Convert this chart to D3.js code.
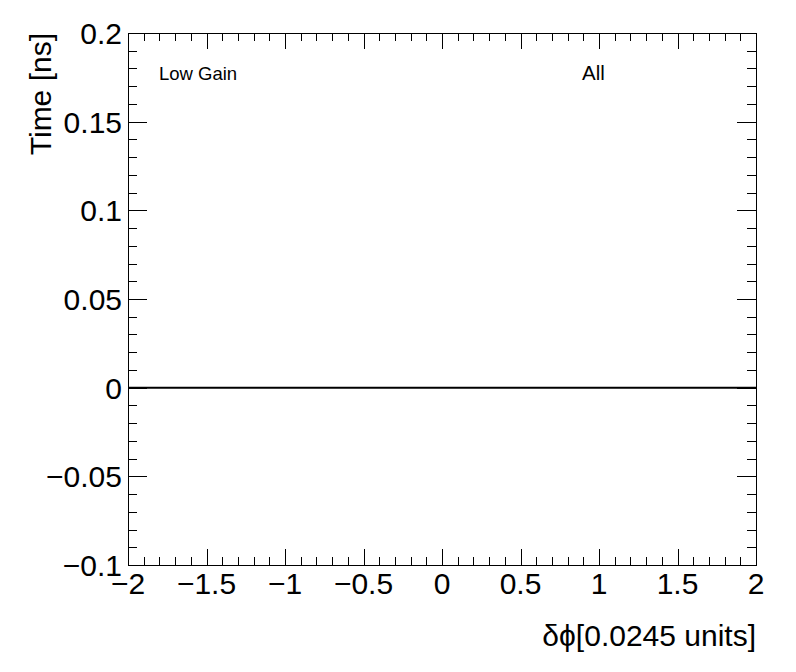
<!DOCTYPE html>
<html>
<head>
<meta charset="utf-8">
<script src="https://cdn.jsdelivr.net/npm/d3@7"></script>
<style>
  body { margin: 0; background: #fff; }
  text { font-family: "Liberation Sans", Arial, sans-serif; fill: #000; }
</style>
</head>
<body>
<div id="chart"></div>
<script>
// data
var xPoints = [-2, -1.5, -1, -0.5, 0, 0.5, 1, 1.5, 2];
var yPoints = [0, 0, 0, 0, 0, 0, 0, 0, 0];
var xTicks = [-2, -1.5, -1, -0.5, 0, 0.5, 1, 1.5, 2];
var yTicks = [-0.1, -0.05, 0, 0.05, 0.1, 0.15, 0.2];
var labels = ["Low Gain", "All"];

var width = 796, height = 672;
var padL = 128, padR = 756, padT = 33, padB = 565;

var svg = d3.select("#chart").append("svg")
    .attr("width", width)
    .attr("height", height);

var x = d3.scaleLinear().domain([-2, 2]).range([padL, padR]);
var y = d3.scaleLinear().domain([-0.1, 0.2]).range([padB, padT]);

var fmt = function (d) {
    var s = String(+d.toFixed(3));
    return s.replace("-", "\u2212");
};

// minor ticks
var xMinor = d3.range(-20, 21).map(d => d / 10);
var yMinor = d3.range(-10, 21).map(d => d / 100);

var g = svg.append("g").attr("stroke", "#000").attr("stroke-width", 1);

g.selectAll(".xb").data(xMinor).enter().append("line")
    .attr("x1", d => Math.round(x(d)) + 0.5).attr("x2", d => Math.round(x(d)) + 0.5)
    .attr("y1", padB)
    .attr("y2", (d, i) => padB - (i % 5 === 0 ? 16 : 8));
g.selectAll(".xt").data(xMinor).enter().append("line")
    .attr("x1", d => Math.round(x(d)) + 0.5).attr("x2", d => Math.round(x(d)) + 0.5)
    .attr("y1", padT)
    .attr("y2", (d, i) => padT + (i % 5 === 0 ? 16 : 8));
g.selectAll(".yl").data(yMinor).enter().append("line")
    .attr("y1", d => Math.round(y(d)) + 0.5).attr("y2", d => Math.round(y(d)) + 0.5)
    .attr("x1", padL)
    .attr("x2", (d, i) => padL + (i % 5 === 0 ? 19 : 9));
g.selectAll(".yr").data(yMinor).enter().append("line")
    .attr("y1", d => Math.round(y(d)) + 0.5).attr("y2", d => Math.round(y(d)) + 0.5)
    .attr("x1", padR)
    .attr("x2", (d, i) => padR - (i % 5 === 0 ? 19 : 9));

// frame
svg.append("rect")
    .attr("x", padL + 0.5).attr("y", padT + 0.5)
    .attr("width", padR - padL).attr("height", padB - padT)
    .attr("fill", "none").attr("stroke", "#000").attr("stroke-width", 1);

// series
var line = d3.line().x(d => x(d[0])).y(d => y(d[1]));
svg.append("path")
    .datum(xPoints.map((d, i) => [d, yPoints[i]]))
    .attr("d", line)
    .attr("fill", "none")
    .attr("stroke", "#000")
    .attr("stroke-width", 2);

// tick labels
svg.selectAll(".xl").data(xTicks).enter().append("text")
    .attr("x", d => x(d))
    .attr("y", 594)
    .attr("text-anchor", "middle")
    .attr("font-size", 30)
    .text(fmt);

svg.selectAll(".ylab").data(yTicks).enter().append("text")
    .attr("x", 122)
    .attr("y", d => y(d) + 11)
    .attr("text-anchor", "end")
    .attr("font-size", 30)
    .text(fmt);

// axis titles
svg.append("text")
    .attr("x", 756).attr("y", 646)
    .attr("text-anchor", "end")
    .attr("font-size", 30)
    .text("\u03b4\u03d5[0.0245 units]");

svg.append("text")
    .attr("transform", "translate(51,33) rotate(-90)")
    .attr("text-anchor", "end")
    .attr("font-size", 30)
    .text("Time [ns]");

// labels
svg.append("text").attr("x", 159).attr("y", 80).attr("font-size", 18.5).text(labels[0]);
svg.append("text").attr("x", 582).attr("y", 80).attr("font-size", 20.5).text(labels[1]);
</script>
</body>
</html>
